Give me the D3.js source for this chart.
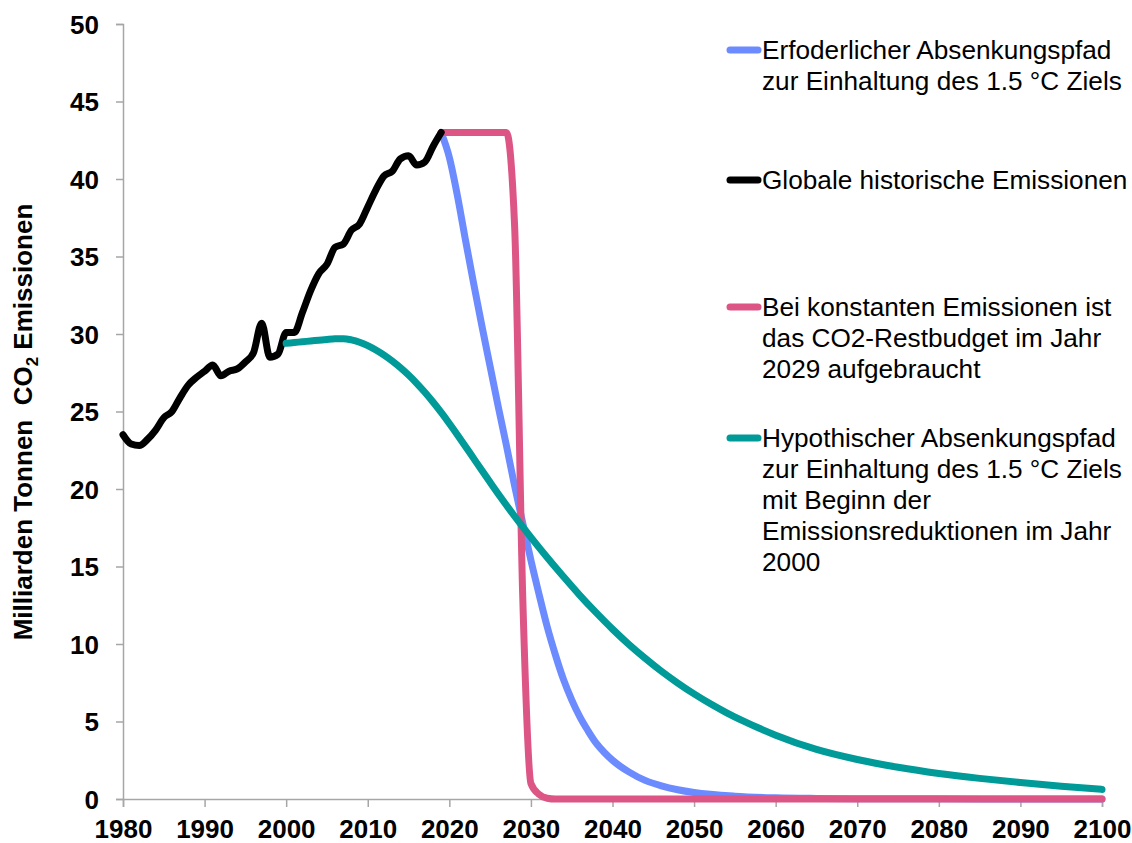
<!DOCTYPE html>
<html>
<head>
<meta charset="utf-8">
<script src="https://cdn.jsdelivr.net/npm/d3@7"></script>
<style>
  html, body { margin: 0; padding: 0; background: #fff; }
  svg { display: block; font-family: "Liberation Sans", Arial, sans-serif; }
</style>
</head>
<body>
<svg id="chart" width="1132" height="843"></svg>
<script>
// ---- Data ----
const histYears = d3.range(1980, 2020);
const histValues = [23.5, 22.9, 22.8, 23.2, 23.8, 24.6, 25.0, 25.9, 26.7, 27.2,
                    27.6, 28.0, 27.3, 27.6, 27.75, 28.2, 28.8, 30.7, 28.5, 28.7,
                    30.1, 30.1, 31.4, 32.8, 33.9, 34.5, 35.6, 35.8, 36.7, 37.1,
                    38.2, 39.3, 40.2, 40.5, 41.3, 41.5, 40.9, 41.1, 42.1, 43.0];

const reqYears = [2019, 2020, 2021, 2022, 2023, 2024, 2025, 2026, 2027, 2028, 2029,
                  2030, 2031, 2032, 2033, 2034, 2035, 2036, 2037, 2038, 2039, 2040,
                  2042, 2044, 2046, 2048, 2050, 2055, 2060, 2065, 2070, 2080, 2090, 2100];
const reqValues = [43.0, 41.4, 38.9, 36.0, 33.2, 30.5, 27.9, 25.3, 22.8, 20.2, 17.8,
                   15.4, 13.2, 11.1, 9.3, 7.7, 6.4, 5.3, 4.4, 3.6, 3.0, 2.5,
                   1.75, 1.2, 0.85, 0.6, 0.42, 0.18, 0.08, 0.04, 0.02, 0.01, 0, 0];

const constYears = [2019, 2020, 2021, 2022, 2023, 2024, 2025, 2026, 2027, 2028, 2029,
                    2030, 2031, 2032, 2033, 2100];
const constValues = [43, 43, 43, 43, 43, 43, 43, 43, 43, 37, 13,
                     1.0, 0.3, 0.05, 0, 0];

const hypoYears = [2000, 2001, 2002, 2003, 2004, 2005, 2006, 2007, 2008, 2009,
                   2010, 2011, 2012, 2013, 2014, 2015, 2016, 2017, 2018, 2019,
                   2020, 2021, 2022, 2023, 2024, 2025, 2026, 2027, 2028, 2029,
                   2030, 2032, 2034, 2036, 2038, 2040, 2042, 2044, 2046, 2048,
                   2050, 2052, 2054, 2056, 2058, 2060, 2065, 2070, 2075, 2080,
                   2085, 2090, 2095, 2100];
const hypoValues = [29.4, 29.45, 29.5, 29.55, 29.6, 29.65, 29.69, 29.7, 29.62, 29.47,
                    29.25, 28.97, 28.64, 28.26, 27.83, 27.35, 26.82, 26.24, 25.61, 24.94,
                    24.23, 23.49, 22.73, 21.96, 21.19, 20.43, 19.68, 18.95, 18.24, 17.55,
                    16.88, 15.58, 14.34, 13.14, 12.02, 10.96, 9.98, 9.08, 8.24, 7.48,
                    6.78, 6.14, 5.56, 5.04, 4.56, 4.12, 3.2, 2.55, 2.05, 1.65,
                    1.33, 1.06, 0.82, 0.62];

const xTicks = [1980, 1990, 2000, 2010, 2020, 2030, 2040, 2050, 2060, 2070, 2080, 2090, 2100];
const yTicks = [0, 5, 10, 15, 20, 25, 30, 35, 40, 45, 50];

const seriesNames = ["req", "hist", "const", "hypo"];
const legendLines = [
  ["Erfoderlicher Absenkungspfad", "zur Einhaltung des 1.5 °C Ziels"],
  ["Globale historische Emissionen"],
  ["Bei konstanten Emissionen ist", "das CO2-Restbudget im Jahr", "2029 aufgebraucht"],
  ["Hypothischer Absenkungspfad", "zur Einhaltung des 1.5 °C Ziels", "mit Beginn der", "Emissionsreduktionen im Jahr", "2000"]
];

// ---- Styles ----
const colors = { req: "#6B8BFF", hist: "#000000", const: "#DD5585", hypo: "#009A98" };

const svg = d3.select("#chart");
const x = d3.scaleLinear().domain([1980, 2100]).range([123, 1102]);
const y = d3.scaleLinear().domain([0, 50]).range([799, 24]);

// Axes
const axisColor = "#A6A6A6";
const gy = svg.append("g").attr("transform", "translate(123,0)")
  .call(d3.axisLeft(y).tickValues(yTicks).tickSize(7).tickPadding(17).tickFormat(d3.format("d")));
gy.select(".domain").attr("stroke", axisColor).attr("stroke-width", 1.5);
gy.selectAll(".tick line").attr("stroke", axisColor).attr("stroke-width", 1.5);
gy.selectAll(".tick text").attr("font-size", 26).attr("font-weight", "bold")
  .attr("fill", "#000").attr("font-family", "Liberation Sans, Arial, sans-serif")
  .attr("dy", "0.36em");

const gx = svg.append("g").attr("transform", "translate(0,799)")
  .call(d3.axisBottom(x).tickValues(xTicks).tickSize(8).tickFormat(d3.format("d")));
gx.select(".domain").attr("stroke", axisColor).attr("stroke-width", 1.5);
gx.selectAll(".tick line").attr("stroke", axisColor).attr("stroke-width", 1.5);
gx.selectAll(".tick text").attr("font-size", 26).attr("font-weight", "bold")
  .attr("fill", "#000").attr("font-family", "Liberation Sans, Arial, sans-serif")
  .attr("y", 38.5).attr("dy", 0);

// Y title
const yt = svg.append("text")
  .attr("transform", "translate(32,422) rotate(-90)")
  .attr("text-anchor", "middle")
  .attr("font-size", 26).attr("font-weight", "bold").attr("fill", "#000");
yt.append("tspan").text("Milliarden Tonnen\u00A0\u00A0CO");
yt.append("tspan").attr("font-size", 17).attr("dy", 6).text("2");
yt.append("tspan").attr("dy", -6).text(" Emissionen");

// Lines
const line = d3.line().x(d => x(d[0])).y(d => y(d[1])).curve(d3.curveMonotoneX);
const seriesData = {
  req: reqYears.map((yr, i) => [yr, reqValues[i]]),
  hist: histYears.map((yr, i) => [yr, histValues[i]]),
  const: constYears.map((yr, i) => [yr, constValues[i]]),
  hypo: hypoYears.map((yr, i) => [yr, hypoValues[i]])
};
["req", "const", "hist", "hypo"].forEach(k => {
  svg.append("path")
    .datum(seriesData[k])
    .attr("d", line)
    .attr("fill", "none")
    .attr("stroke", colors[k])
    .attr("stroke-width", 7)
    .attr("stroke-linejoin", "round")
    .attr("stroke-linecap", "round");
});

// Legend
const legendTop = [50, 180, 307, 438];
const lineH = 30.8;
seriesNames.forEach((k, i) => {
  const cy = legendTop[i];
  svg.append("line")
    .attr("x1", 730).attr("x2", 758).attr("y1", cy).attr("y2", cy)
    .attr("stroke", colors[k]).attr("stroke-width", 7).attr("stroke-linecap", "round");
  const t = svg.append("text").attr("font-size", 26.2).attr("fill", "#000");
  legendLines[i].forEach((s, j) => {
    t.append("tspan").attr("x", 762).attr("y", cy + 9.4 + j * lineH).text(s);
  });
});
</script>
</body>
</html>
